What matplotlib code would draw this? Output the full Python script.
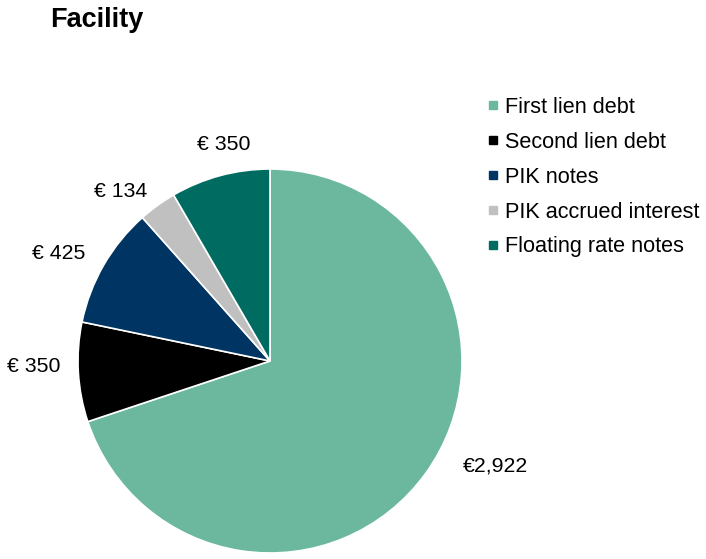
import matplotlib
matplotlib.use("Agg")
import matplotlib.pyplot as plt
from matplotlib.lines import Line2D

plt.rcParams['font.family'] = ['Liberation Sans', 'DejaVu Sans']

categories = ["First lien debt", "Second lien debt", "PIK notes",
              "PIK accrued interest", "Floating rate notes"]
values = [2922, 350, 425, 134, 350]
value_labels = ["€2,922", "€ 350", "€ 425", "€ 134", "€ 350"]
colors = ["#6BB89E", "#000000", "#003462", "#C0C0C0", "#006B60"]

W, H = 706, 559
fig = plt.figure(figsize=(W / 100, H / 100), dpi=100)

cx, cy, R = 270, 361, 192
ax = fig.add_axes([(cx - R) / W, (H - cy - R) / H, 2 * R / W, 2 * R / H])
ax.pie(values, colors=colors, startangle=90, counterclock=False,
       wedgeprops=dict(edgecolor="white", linewidth=1.2))
ax.set_xlim(-1, 1)
ax.set_ylim(-1, 1)
ax.set_aspect("equal")
ax.axis("off")

# label positions in pie units (radius = 1)
label_pos = [(1.177, -0.547), (-1.232, -0.031), (-1.099, 0.5625),
             (-0.776, 0.885), (-0.242, 1.13)]
for (x, y), t in zip(label_pos, value_labels):
    ax.text(x, y, t, ha="center", va="center", fontsize=15.3, color="#000000",
            clip_on=False)

handles = [Line2D([0], [0], marker="s", linestyle="none", markersize=5.5,
                  markerfacecolor=c, markeredgecolor=c) for c in colors]
fig.legend(handles, categories, loc="upper left",
           bbox_to_anchor=(488 / W, 1 - 97 / H), frameon=False,
           fontsize=15.6, handlelength=0.5, handletextpad=0.3,
           labelspacing=0.64, borderaxespad=0, borderpad=0)

fig.text(50 / W, 1 - 27 / H, "Facility", ha="left", va="baseline",
         fontsize=19.5, fontweight="bold")

fig.savefig("out.png", dpi=100)
